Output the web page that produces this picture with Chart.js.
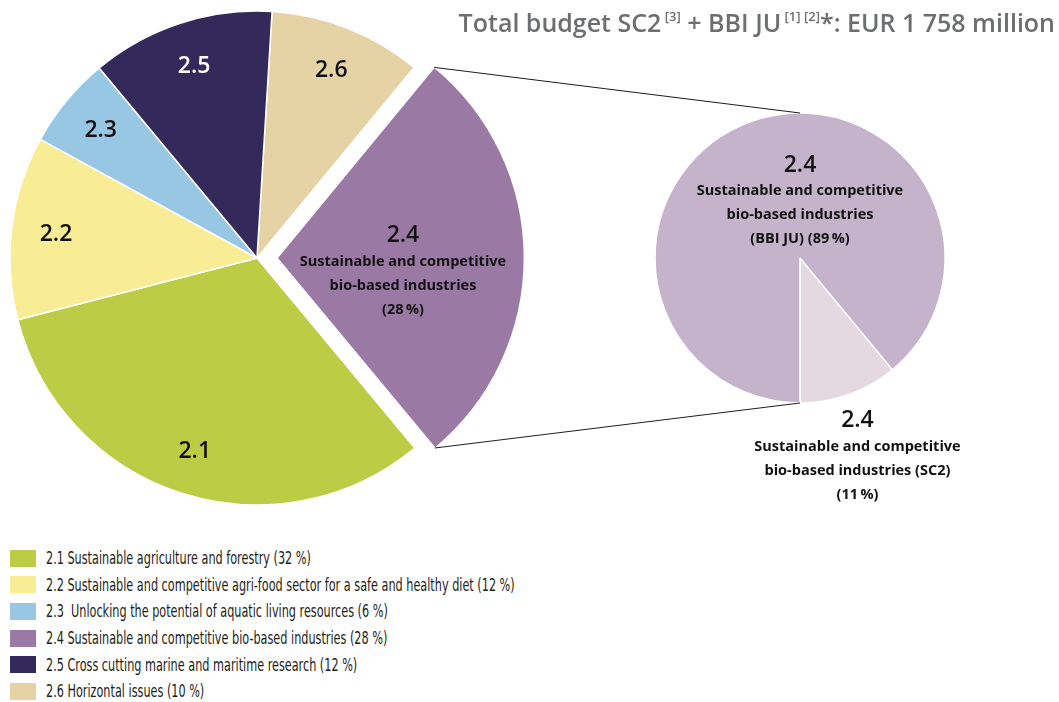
<!DOCTYPE html>
<html>
<head>
<meta charset="utf-8">
<script src="https://cdn.jsdelivr.net/npm/chart.js@4.4.1/dist/chart.umd.min.js"></script>
<style>
    body { margin: 0; background: #fff; }
    #wrap { position: relative; width: 1059px; height: 702px; overflow: hidden; }
    .layer { position: absolute; left: 0; top: 0; width: 1059px; height: 520px; }
    #title { position: absolute; right: 4px; top: 5px; font-family: "Open Sans", sans-serif; font-weight: 600;
             font-size: 25px; color: #6d6e70; white-space: nowrap; }
    #title sup { font-size: 13px; vertical-align: 0; position: relative; top: -11px; }
    #legend { position: absolute; left: 10px; top: 545px; font-family: "Liberation Sans Narrow", "DejaVu Sans Condensed", sans-serif;
              font-stretch: condensed; font-size: 17.5px; color: #1d1d1b; }
    .item { display: flex; align-items: center; height: 26.6px; white-space: pre; }
    .box { width: 26px; height: 17px; margin-right: 10px; flex: none; }
    .txt { display: inline-block; transform: scaleX(0.715); transform-origin: left center; }
</style>
</head>
<body>
<div id="wrap">
    <div class="layer"><canvas id="mainPie"></canvas></div>
    <div class="layer"><canvas id="bbiPie"></canvas></div>
    <div id="title">Total budget SC2<sup> [3]</sup> + BBI JU<sup> [1] [2]</sup>*: EUR 1 758 million</div>
    <div id="legend"></div>
</div>
<script>
// Data
const categories = ['2.1', '2.2', '2.3', '2.4', '2.5', '2.6'];
const categoryNames = [
    'Sustainable agriculture and forestry',
    'Sustainable and competitive agri-food sector for a safe and healthy diet',
    ' Unlocking the potential of aquatic living resources',
    'Sustainable and competitive bio-based industries',
    'Cross cutting marine and maritime research',
    'Horizontal issues'
];
const shares = [32, 12, 6, 28, 12, 10];
const colors = ['#bccd45', '#f8ec94', '#98c7e3', '#9a7aa4', '#33295a', '#e6d3a5'];
// clockwise order of the slices, starting just right of 12 o'clock
const pieOrder = ['2.6', '2.4', '2.1', '2.2', '2.3', '2.5'];

const bbiParts = ['SC2', 'BBI JU'];
const bbiShares = [11, 89];
const bbiColors = ['#e5d9e1', '#c4b3cb'];

const idx = pieOrder.map(c => categories.indexOf(c));
const labelFont = '"Open Sans", sans-serif';

// Draws text blocks in or next to each slice
const sliceLabels = {
    id: 'sliceLabels',
    afterDatasetsDraw(chart, args, opts) {
        const ctx = chart.ctx;
        const arcs = chart.getDatasetMeta(0).data;
        ctx.save();
        ctx.textAlign = 'center';
        ctx.textBaseline = 'middle';
        arcs.forEach((arc, i) => {
            const lab = opts.items[i];
            if (!lab) return;
            const mid = (arc.startAngle + arc.endAngle) / 2;
            const shift = (arc.options.offset || 0) / 4;
            const r = arc.outerRadius * lab.dist;
            const x = arc.x + Math.cos(mid) * (shift + r);
            let y = arc.y + Math.sin(mid) * (shift + r) + (lab.dy || 0);
            const lines = lab.lines || [];
            const h = lines.length ? 26 + (lines.length - 1) * 24 : 0;
            if (!lab.top) y -= h / 2;
            ctx.fillStyle = lab.color || '#111';
            ctx.font = '600 23px ' + labelFont;
            ctx.fillText(lab.title, x, y);
            ctx.font = '700 14.5px ' + labelFont;
            lines.forEach((t, k) => ctx.fillText(t, x, y + 26 + k * 24));
        });
        ctx.restore();
    }
};

// Lines joining the pulled-out slice to the BBI pie
const connectors = {
    id: 'connectors',
    afterDraw(chart) {
        const main = Chart.getChart('mainPie');
        if (!main) return;
        const arc = main.getDatasetMeta(0).data[pieOrder.indexOf('2.4')];
        const mid = (arc.startAngle + arc.endAngle) / 2;
        const shift = (arc.options.offset || 0) / 4;
        const cx = arc.x + Math.cos(mid) * shift;
        const cy = arc.y + Math.sin(mid) * shift;
        const small = chart.getDatasetMeta(0).data[0];
        const ctx = chart.ctx;
        ctx.save();
        ctx.strokeStyle = '#1d1d1b';
        ctx.lineWidth = 1;
        ctx.beginPath();
        ctx.moveTo(cx + Math.cos(arc.startAngle) * arc.outerRadius, cy + Math.sin(arc.startAngle) * arc.outerRadius);
        ctx.lineTo(small.x, small.y - small.outerRadius);
        ctx.moveTo(cx + Math.cos(arc.endAngle) * arc.outerRadius, cy + Math.sin(arc.endAngle) * arc.outerRadius);
        ctx.lineTo(small.x, small.y + small.outerRadius);
        ctx.stroke();
        ctx.restore();
    }
};

const commonOptions = {
    responsive: true,
    maintainAspectRatio: false,
    animation: false,
    events: [],
    plugins: { legend: { display: false }, tooltip: { enabled: false } }
};

new Chart(document.getElementById('mainPie'), {
    type: 'pie',
    data: {
        labels: pieOrder,
        datasets: [{
            data: idx.map(i => shares[i]),
            backgroundColor: idx.map(i => colors[i]),
            borderColor: '#fff',
            borderWidth: 1.5,
            offset: pieOrder.map(c => c === '2.4' ? 80 : 0)
        }]
    },
    options: {
        ...commonOptions,
        rotation: 3.5,
        radius: 247,
        layout: { padding: { left: 0, right: 545, top: 0, bottom: 4 } },
        plugins: {
            ...commonOptions.plugins,
            sliceLabels: {
                items: pieOrder.map(c => {
                    if (c === '2.4') {
                        return { title: c, dist: 0.51, dy: 15,
                                 lines: ['Sustainable and competitive', 'bio-based industries', '(28\u2009%)'] };
                    }
                    return { title: c, dist: 0.82, dy: 1, color: c === '2.5' ? '#fff' : '#111' };
                })
            }
        }
    },
    plugins: [sliceLabels]
});

new Chart(document.getElementById('bbiPie'), {
    type: 'pie',
    data: {
        labels: bbiParts,
        datasets: [{
            data: bbiShares,
            backgroundColor: bbiColors,
            borderColor: '#fff',
            borderWidth: 1.5
        }]
    },
    options: {
        ...commonOptions,
        rotation: 140.4,
        radius: 145,
        layout: { padding: { left: 541, right: 0, top: 0, bottom: 4 } },
        plugins: {
            ...commonOptions.plugins,
            sliceLabels: {
                items: [
                    { title: '2.4', dist: 1.17, dy: 3, top: true,
                      lines: ['Sustainable and competitive', 'bio-based industries (SC2)', '(11\u2009%)'] },
                    { title: '2.4', dist: 0, dy: -56,
                      lines: ['Sustainable and competitive', 'bio-based industries', '(BBI JU) (89\u2009%)'] }
                ]
            }
        }
    },
    plugins: [sliceLabels, connectors]
});

// Legend
const legend = document.getElementById('legend');
let html = '';
categories.forEach((c, i) => {
    html += `<div class="item"><span class="box" style="background:${colors[i]}"></span>` +
            `<span class="txt">${c} ${categoryNames[i]} (${shares[i]} %)</span></div>`;
});
legend.innerHTML = html;
</script>
</body>
</html>
